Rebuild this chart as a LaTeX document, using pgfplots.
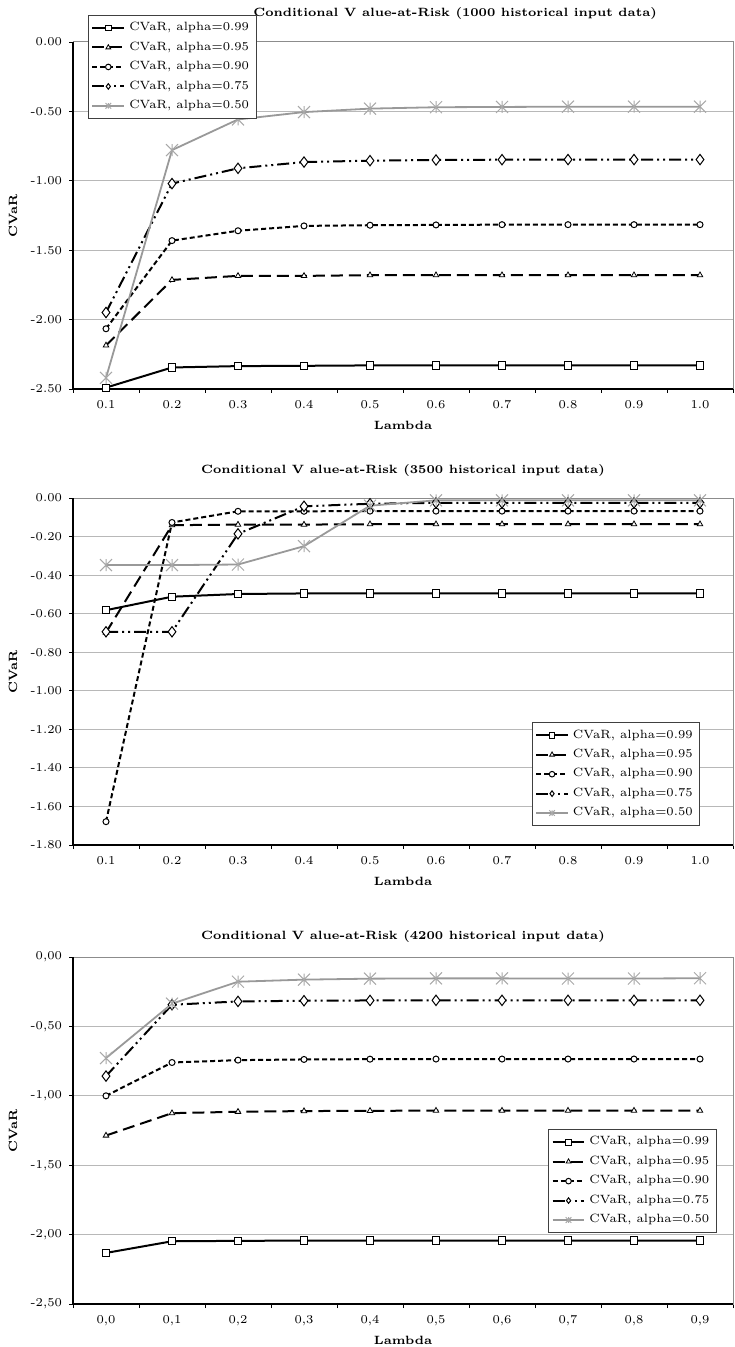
\documentclass[border=0pt]{standalone}
\usepackage{pgfplots}
\usepackage{pgfplotstable}
\pgfplotsset{compat=1.18}
\definecolor{gridc}{gray}{0.72}
\definecolor{boxc}{gray}{0.55}
\definecolor{ln50}{gray}{0.6}
\definecolor{mk50}{gray}{0.66}
\pgfdeclareplotmark{xstar}{%
 \pgfpathmoveto{\pgfqpoint{-\pgfplotmarksize}{-\pgfplotmarksize}}%
 \pgfpathlineto{\pgfqpoint{\pgfplotmarksize}{\pgfplotmarksize}}%
 \pgfpathmoveto{\pgfqpoint{-\pgfplotmarksize}{\pgfplotmarksize}}%
 \pgfpathlineto{\pgfqpoint{\pgfplotmarksize}{-\pgfplotmarksize}}%
 \pgfpathmoveto{\pgfqpoint{0pt}{-\pgfplotmarksize}}%
 \pgfpathlineto{\pgfqpoint{0pt}{\pgfplotmarksize}}%
 \pgfusepathqstroke}

\pgfplotstableread{
x a99 a95 a90 a75 a50
0 -2.490 -2.186 -2.066 -1.949 -2.420
1 -2.345 -1.714 -1.431 -1.020 -0.779
2 -2.335 -1.685 -1.360 -0.910 -0.558
3 -2.333 -1.685 -1.325 -0.865 -0.505
4 -2.330 -1.680 -1.320 -0.855 -0.480
5 -2.330 -1.680 -1.318 -0.850 -0.470
6 -2.330 -1.680 -1.316 -0.848 -0.468
7 -2.330 -1.680 -1.316 -0.847 -0.466
8 -2.330 -1.680 -1.316 -0.847 -0.466
9 -2.330 -1.680 -1.316 -0.847 -0.466
}\tabA

\pgfplotstableread{
x a99 a95 a90 a75 a50
0 -0.582 -0.698 -1.679 -0.694 -0.348
1 -0.512 -0.141 -0.127 -0.694 -0.348
2 -0.498 -0.138 -0.069 -0.186 -0.345
3 -0.495 -0.138 -0.069 -0.043 -0.250
4 -0.495 -0.136 -0.068 -0.030 -0.040
5 -0.495 -0.136 -0.068 -0.025 -0.012
6 -0.495 -0.136 -0.068 -0.025 -0.012
7 -0.495 -0.136 -0.068 -0.025 -0.012
8 -0.495 -0.136 -0.068 -0.025 -0.012
9 -0.495 -0.136 -0.068 -0.025 -0.012
}\tabB

\pgfplotstableread{
x a99 a95 a90 a75 a50
0 -2.132 -1.286 -1.000 -0.858 -0.728
1 -2.048 -1.125 -0.760 -0.344 -0.336
2 -2.045 -1.115 -0.743 -0.320 -0.178
3 -2.043 -1.110 -0.738 -0.315 -0.163
4 -2.043 -1.108 -0.736 -0.313 -0.156
5 -2.043 -1.107 -0.735 -0.312 -0.154
6 -2.043 -1.107 -0.735 -0.312 -0.154
7 -2.043 -1.107 -0.735 -0.312 -0.155
8 -2.043 -1.107 -0.735 -0.312 -0.155
9 -2.043 -1.107 -0.735 -0.312 -0.153
}\tabC

\pgfplotsset{
 s99/.style={black, line width=1pt, mark=square*, mark size=1.8pt, mark options={fill=white, line width=0.5pt, solid}},
 s95/.style={black, line width=1pt, dash pattern=on 6pt off 3pt, mark=triangle*, mark size=1.6pt, mark options={fill=white, line width=0.4pt, solid}},
 s90/.style={black, line width=1pt, dash pattern=on 2.5pt off 1.5pt, mark=*, mark size=1.5pt, mark options={fill=white, line width=0.5pt, solid}},
 s75/.style={black, line width=1pt, dash pattern=on 6pt off 2pt on 1pt off 2pt on 1pt off 2pt, mark=diamond*, mark size=2.6pt, mark options={fill=white, line width=0.5pt, solid}},
 s50/.style={ln50, line width=0.9pt, mark=xstar, mark size=3pt, mark options={mk50, line width=0.5pt, solid}},
 cvar/.style={
  width=330pt, height=173.5pt, scale only axis,
  anchor=north west,
  xmin=-0.5, xmax=9.5,
  xtick={0,1,2,3,4,5,6,7,8,9},
  minor xtick={-0.5,0.5,1.5,2.5,3.5,4.5,5.5,6.5,7.5,8.5,9.5},
  major x tick style={draw=none},
  minor x tick style={draw=black, line width=0.4pt},
  minor tick length=2pt,
  major tick length=2pt,
  tick align=outside,
  xtick pos=bottom, ytick pos=left,
  ymajorgrids, grid style={gridc, line width=0.5pt},
  axis line style={boxc, line width=0.5pt},
  y tick style={black, line width=0.4pt},
  yticklabel style={/pgf/number format/fixed, /pgf/number format/fixed zerofill, /pgf/number format/precision=2},
  /pgf/number format/assume math mode=true,
  font=\fontsize{6}{7}\selectfont,
  tick label style={font=\fontsize{6}{7}\selectfont},
  every axis title/.style={at={(axis description cs:0.5,1.078)}, anchor=center, font=\fontsize{6}{7}\selectfont\bfseries},
  label style={font=\fontsize{6}{7}\selectfont\bfseries},
  xlabel=Lambda, ylabel=CVaR,
  xlabel style={at={(axis description cs:0.5,-0.104)}, anchor=center},
  ylabel style={at={(axis description cs:-0.091,0.5)}, anchor=center},
  legend cell align=left,
  legend image code/.code={\draw[mark repeat=2, mark phase=2, mark size=1.4pt] plot coordinates {(0cm,0cm) (0.28cm,0cm) (0.56cm,0cm)};},
  legend style={draw=black!75, line width=0.4pt, font=\fontsize{6}{7}\selectfont, inner sep=1.5pt, row sep=0pt},
  clip=false,
 }
}

\begin{document}
\begin{tikzpicture}
\useasboundingbox (0,0) rectangle (367pt,-673.5pt);

% Panel 1
\begin{axis}[cvar, at={(36.5pt,-21pt)},
 ymin=-2.5, ymax=0, ytick={-2.5,-2,-1.5,-1,-0.5,0},
 xticklabels={0.1,0.2,0.3,0.4,0.5,0.6,0.7,0.8,0.9,1.0},
 title={Conditional V alue-at-Risk (1000 historical input data)},
 title style={at={(axis description cs:0.579,1.081)}},
 legend style={at={(axis description cs:0.0227,1.078)}, anchor=north west}]
\addplot[s99] table[x=x,y=a99] {\tabA}; \addlegendentry{CVaR, alpha=0.99}
\addplot[s95] table[x=x,y=a95] {\tabA}; \addlegendentry{CVaR, alpha=0.95}
\addplot[s90] table[x=x,y=a90] {\tabA}; \addlegendentry{CVaR, alpha=0.90}
\addplot[s75] table[x=x,y=a75] {\tabA}; \addlegendentry{CVaR, alpha=0.75}
\addplot[s50] table[x=x,y=a50] {\tabA}; \addlegendentry{CVaR, alpha=0.50}
\draw[black, line width=0.8pt] (rel axis cs:0,1) -- (rel axis cs:0,0) -- (rel axis cs:1,0);
\end{axis}

% Panel 2
\begin{axis}[cvar, at={(36.5pt,-249pt)},
 ymin=-1.8, ymax=0, ytick={-1.8,-1.6,-1.4,-1.2,-1,-0.8,-0.6,-0.4,-0.2,0},
 xticklabels={0.1,0.2,0.3,0.4,0.5,0.6,0.7,0.8,0.9,1.0},
 title={Conditional V alue-at-Risk (3500 historical input data)},
 title style={at={(axis description cs:0.5,1.078)}},
 legend style={at={(axis description cs:0.695,0.354)}, anchor=north west}]
\addplot[s99] table[x=x,y=a99] {\tabB}; \addlegendentry{CVaR, alpha=0.99}
\addplot[s95] table[x=x,y=a95] {\tabB}; \addlegendentry{CVaR, alpha=0.95}
\addplot[s90] table[x=x,y=a90] {\tabB}; \addlegendentry{CVaR, alpha=0.90}
\addplot[s75] table[x=x,y=a75] {\tabB}; \addlegendentry{CVaR, alpha=0.75}
\addplot[s50] table[x=x,y=a50] {\tabB}; \addlegendentry{CVaR, alpha=0.50}
\draw[black, line width=0.8pt] (rel axis cs:0,1) -- (rel axis cs:0,0) -- (rel axis cs:1,0);
\end{axis}

% Panel 3
\begin{axis}[cvar, at={(36.5pt,-478.5pt)},
 ymin=-2.5, ymax=0, ytick={-2.5,-2,-1.5,-1,-0.5,0},
 yticklabel style={/pgf/number format/use comma},
 xticklabels={{0,0},{0,1},{0,2},{0,3},{0,4},{0,5},{0,6},{0,7},{0,8},{0,9}},
 title={Conditional V alue-at-Risk (4200 historical input data)},
 title style={at={(axis description cs:0.5,1.058)}},
 legend style={at={(axis description cs:0.72,0.504)}, anchor=north west}]
\addplot[s99] table[x=x,y=a99] {\tabC}; \addlegendentry{CVaR, alpha=0.99}
\addplot[s95] table[x=x,y=a95] {\tabC}; \addlegendentry{CVaR, alpha=0.95}
\addplot[s90] table[x=x,y=a90] {\tabC}; \addlegendentry{CVaR, alpha=0.90}
\addplot[s75] table[x=x,y=a75] {\tabC}; \addlegendentry{CVaR, alpha=0.75}
\addplot[s50] table[x=x,y=a50] {\tabC}; \addlegendentry{CVaR, alpha=0.50}
\draw[black, line width=0.8pt] (rel axis cs:0,1) -- (rel axis cs:0,0) -- (rel axis cs:1,0);
\end{axis}
\end{tikzpicture}
\end{document}
